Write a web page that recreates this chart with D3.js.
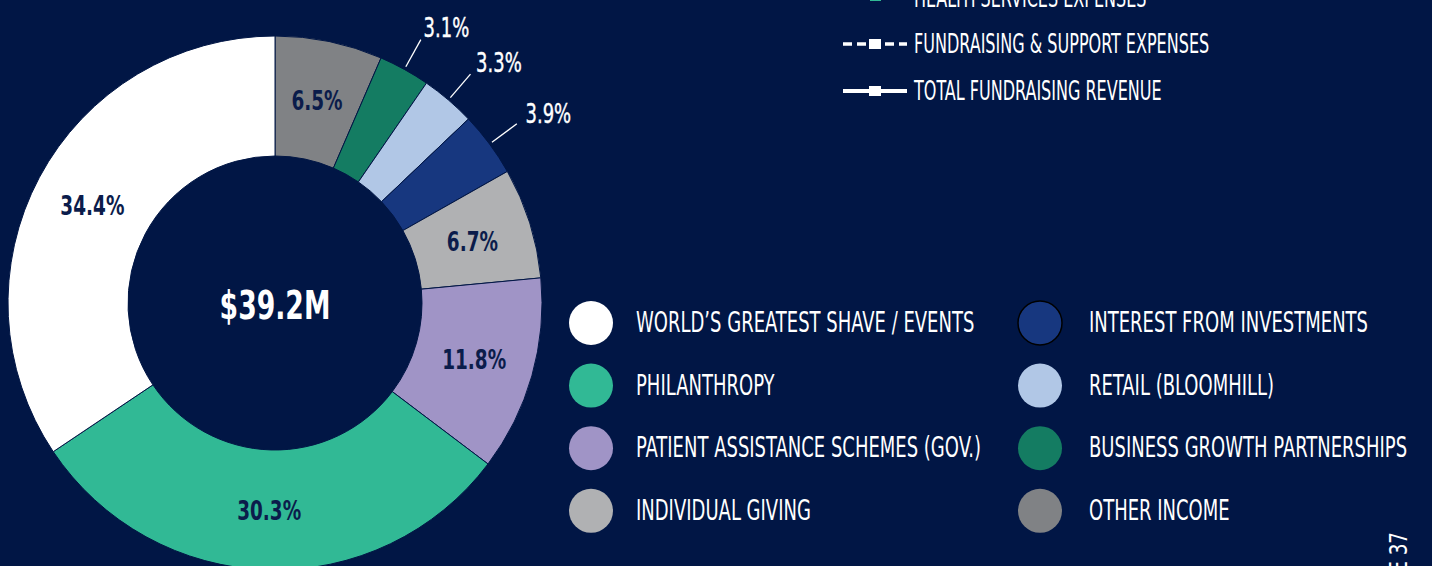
<!DOCTYPE html>
<html><head><meta charset="utf-8">
<script src="https://cdn.jsdelivr.net/npm/d3@7"></script>
<style>
html,body{margin:0;padding:0;background:#011645;overflow:hidden;}
text{font-family:"Liberation Sans Narrow","DejaVu Sans Condensed","Roboto",sans-serif;}
</style></head>
<body><svg id="c" width="1432" height="566"></svg>
<script>
// ---- data ----
const categories = ["OTHER INCOME","BUSINESS GROWTH PARTNERSHIPS","RETAIL (BLOOMHILL)","INTEREST FROM INVESTMENTS","INDIVIDUAL GIVING","PATIENT ASSISTANCE SCHEMES (GOV.)","PHILANTHROPY","WORLD’S GREATEST SHAVE / EVENTS"];
const values = [6.5, 3.1, 3.3, 3.9, 6.7, 11.8, 30.3, 34.4];
const sliceColors = ["#808285","#147c62","#b1c7e6","#17377f","#b0b1b3","#a094c6","#31b995","#ffffff"];
const legendLeft = ["WORLD’S GREATEST SHAVE / EVENTS","PHILANTHROPY","PATIENT ASSISTANCE SCHEMES (GOV.)","INDIVIDUAL GIVING"];
const legendRight = ["INTEREST FROM INVESTMENTS","RETAIL (BLOOMHILL)","BUSINESS GROWTH PARTNERSHIPS","OTHER INCOME"];
const centerLabel = "$39.2M";
const lineLegend = ["HEALTH SERVICES EXPENSES","FUNDRAISING & SUPPORT EXPENSES","TOTAL FUNDRAISING REVENUE"];
const pageLabel = "PAGE 37";

// ---- drawing ----
const bg = "#011645", navy = "#0b1c4b";
const svg = d3.select("#c");
svg.append("rect").attr("width",1432).attr("height",566).attr("fill",bg);

// horizontally condensed text: translate to anchor, then scale x
const ctext = (parent, x, y, k) => parent.append("text").attr("transform",`translate(${x},${y}) scale(${k},1)`);

const cx = 275, cy = 303, rIn = 147, rOut = 267;
const colorOf = d3.scaleOrdinal().domain(categories).range(sliceColors);
const pie = d3.pie().sort(null).value(d => d.v);
const data = categories.map((c,i)=>({c, v: values[i]}));
const arcs = pie(data);
const arc = d3.arc().innerRadius(rIn).outerRadius(rOut);
const g = svg.append("g").attr("transform",`translate(${cx},${cy})`);
g.selectAll("path.s").data(arcs).join("path").attr("class","s")
  .attr("d",arc).attr("fill",d=>colorOf(d.data.c)).attr("stroke",bg).attr("stroke-width",1);

const fmt = v => v.toFixed(1)+"%";
const small = d => d.data.v < 5;
// inside labels
arcs.filter(d=>!small(d)).forEach(d=>{
  const [x,y] = arc.centroid(d);
  ctext(g, x, y, 0.76).attr("text-anchor","middle").attr("dy","0.36em")
    .attr("font-size",27).attr("font-weight","bold").attr("fill",navy).text(fmt(d.data.v));
});
// outside labels with leader lines
const polar = (a,r)=>[Math.sin(a)*r, -Math.cos(a)*r];
const mid = d => (d.startAngle+d.endAngle)/2;
const outs = arcs.filter(small);
g.selectAll("line.ld").data(outs).join("line").attr("class","ld")
  .attr("x1",d=>polar(mid(d),270)[0]).attr("y1",d=>polar(mid(d),270)[1])
  .attr("x2",d=>polar(mid(d),301)[0]).attr("y2",d=>polar(mid(d),301)[1])
  .attr("stroke","#fff").attr("stroke-width",1.3);
outs.forEach(d=>{
  const [x,y] = polar(mid(d)-0.02,314);
  ctext(g, x+2, y+2, 0.74).attr("dy","0.36em").attr("font-size",27).attr("fill","#fff")
    .attr("stroke","#fff").attr("stroke-width",0.4).text(fmt(d.data.v));
});
// center
ctext(g, 0, 2, 0.76).attr("text-anchor","middle").attr("dy","0.36em")
  .attr("font-size",39).attr("font-weight","bold").attr("fill","#fff").text(centerLabel);

// legend
const cols = [{items:legendLeft, cx:591, tx:636},{items:legendRight, cx:1040, tx:1089}];
const y0 = 323, dy = 62.6;
cols.forEach(col=>{
  const lg = svg.append("g");
  const rows = lg.selectAll("g").data(col.items).join("g").attr("transform",(d,i)=>`translate(0,${y0+i*dy})`);
  rows.append("circle").attr("cx",col.cx).attr("r",22).attr("fill",d=>colorOf(d))
    .attr("stroke",d=>d==="INTEREST FROM INVESTMENTS"?"#000":"none").attr("stroke-width",1.5);
  rows.each(function(d){
    ctext(d3.select(this), col.tx, 9, 0.69).attr("font-size",29).attr("fill","#fff").text(d);
  });
});

// top line legend (partially cut off at the top edge)
const ly = [7, 53, 100];
const tl = svg.append("g");
lineLegend.forEach((lab,i)=>{
  const y = ly[i], my = y-9;
  if(i===0){
    tl.append("rect").attr("x",870).attr("y",my-5-2).attr("width",11).attr("height",10).attr("fill","#31b995");
  } else {
    tl.append("line").attr("x1",843).attr("x2",907).attr("y1",my).attr("y2",my)
      .attr("stroke","#fff").attr("stroke-width",i===1?3.5:4).attr("stroke-dasharray",i===1?"9,5":null);
    tl.append("rect").attr("x",869).attr("y",my-5).attr("width",12).attr("height",10).attr("fill","#fff");
  }
  ctext(tl, 914, y, 0.66).attr("font-size",27).attr("fill","#fff").text(lab);
});

// page label (rotated, cut off at the bottom edge)
svg.append("text").attr("transform","translate(1407,532) rotate(-90) scale(0.85,1)")
  .attr("text-anchor","end").attr("font-size",24).attr("fill","#fff").text(pageLabel);
</script></body></html>
